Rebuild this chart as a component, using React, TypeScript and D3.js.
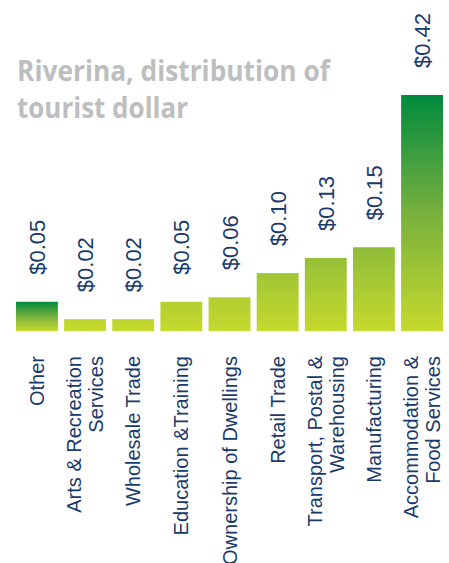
import React from "react";
import * as d3 from "d3";

const categories: string[][] = [
  ["Other"],
  ["Arts & Recreation", "Services"],
  ["Wholesale Trade"],
  ["Education &Training"],
  ["Ownership of Dwellings"],
  ["Retail Trade"],
  ["Transport, Postal &", "Warehousing"],
  ["Manufacturing"],
  ["Accommodation &", "Food Services"],
];
const values: number[] = [0.052, 0.021, 0.021, 0.052, 0.06, 0.103, 0.13, 0.149, 0.42];
const titleLines: string[] = ["Riverina, distribution of", "tourist dollar"];
const titleWidths: number[] = [313, 171];

const W = 449;
const H = 563;
const baseY = 331;
const topY = 95;
const navy = "#1a3a6b";

export default function App() {
  const x = d3
    .scaleBand<number>()
    .domain(values.map((_, i) => i))
    .range([16, 443])
    .paddingInner(0.13)
    .paddingOuter(0);
  const y = d3.scaleLinear().domain([0, 0.42]).range([baseY, topY]);
  const fmt = (v: number) => "$" + d3.format(".2f")(v);

  return (
    <svg
      width={W}
      height={H}
      style={{ position: "absolute", left: 0, top: 0, background: "#fff" }}
    >
      <defs>
        <linearGradient id="gAll" gradientUnits="userSpaceOnUse" x1="0" y1={topY} x2="0" y2={baseY}>
          <stop offset="0" stopColor="#008a3e" />
          <stop offset="0.5" stopColor="#78b03e" />
          <stop offset="1" stopColor="#c6d92e" />
        </linearGradient>
        <linearGradient id="gOther" x1="0" y1="0" x2="0" y2="1">
          <stop offset="0" stopColor="#008a3e" />
          <stop offset="0.5" stopColor="#78b03e" />
          <stop offset="1" stopColor="#c6d92e" />
        </linearGradient>
      </defs>
      {titleLines.map((t, i) => (
        <text
          key={i}
          x={17}
          y={81 + i * 37}
          fontFamily="'Open Sans', sans-serif"
          fontWeight={700}
          fontSize={29}
          fill="#bcbec0"
          textLength={titleWidths[i]}
          lengthAdjust="spacingAndGlyphs"
        >
          {t}
        </text>
      ))}
      {values.map((v, i) => {
        const bx = x(i)!;
        const bw = x.bandwidth();
        const cx = bx + bw / 2;
        const ty = y(v);
        return (
          <g key={i}>
            <rect
              x={bx}
              y={ty}
              width={bw}
              height={baseY - ty}
              fill={i === 0 ? "url(#gOther)" : "url(#gAll)"}
            />
            <text
              transform={`translate(${cx + 8},${ty - 27}) rotate(-90)`}
              fontFamily="'Liberation Sans', Arial, sans-serif"
              fontSize={22}
              fill={navy}
              textAnchor="start"
            >
              {fmt(v)}
            </text>
            {categories[i].map((line, j) => {
              const n = categories[i].length;
              const lx = cx + (j - (n - 1) / 2) * 22 + 7;
              return (
                <text
                  key={j}
                  transform={`translate(${lx},356) rotate(-90)`}
                  fontFamily="'Liberation Sans', Arial, sans-serif"
                  fontSize={20}
                  fill={navy}
                  textAnchor="end"
                >
                  {line}
                </text>
              );
            })}
          </g>
        );
      })}
    </svg>
  );
}
